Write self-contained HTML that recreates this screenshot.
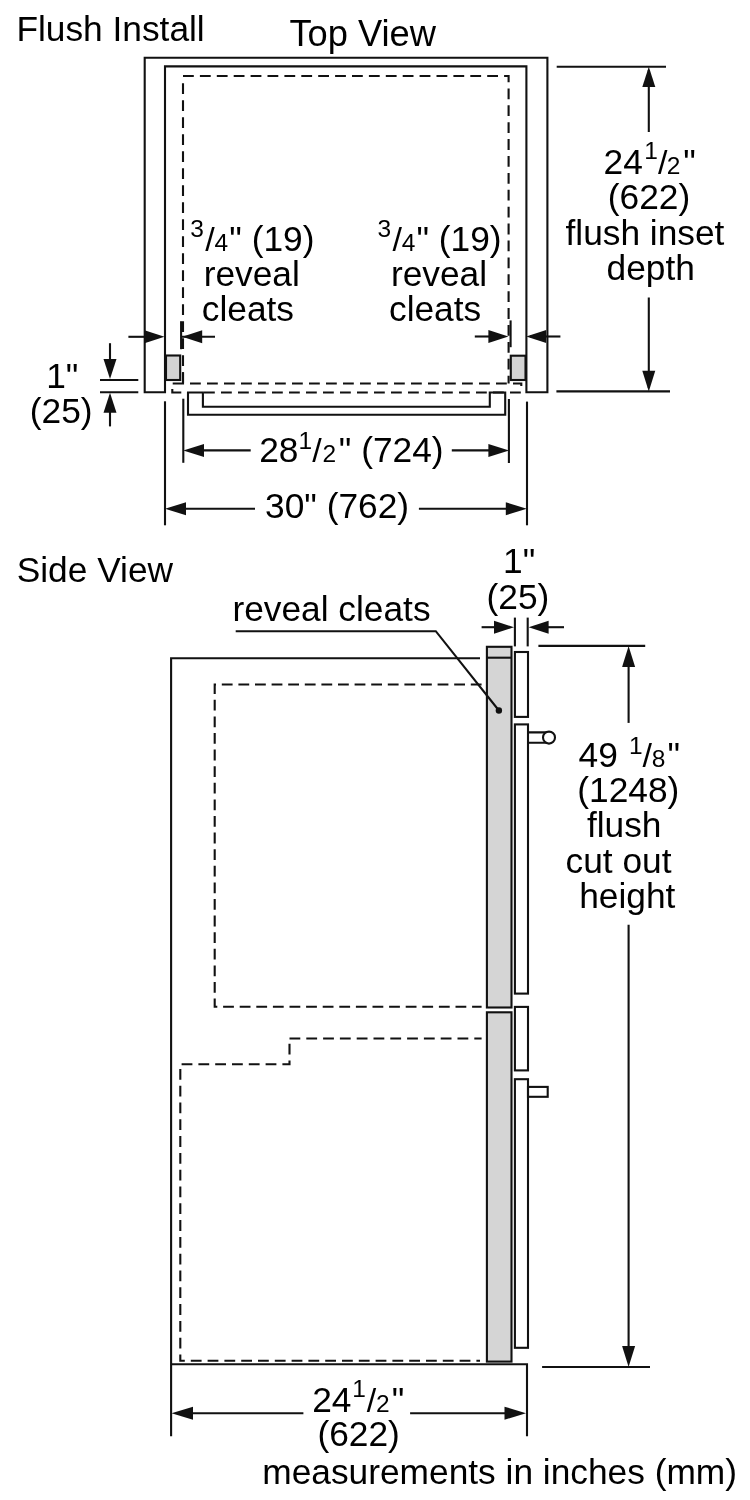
<!DOCTYPE html>
<html><head><meta charset="utf-8">
<style>
html,body{margin:0;padding:0;background:#fff;width:750px;height:1500px;overflow:hidden}
svg{display:block;will-change:transform}
text{font-family:"Liberation Sans",sans-serif;fill:#000;font-size:35.3px}
</style></head><body>
<svg width="750" height="1500" viewBox="0 0 750 1500">
<g fill="none" stroke="#111" stroke-width="2.1">
<!-- ===== TOP VIEW ===== -->
<path d="M165,392.3 H144.7 V57.7 H547.4 V392.3 H526.4 V66.4 H165 Z"/>
<!-- dashed interior -->
<g stroke-dasharray="10.8 6.1">
<path d="M183,76 H508.6 V383.5"/>
<path d="M190,383.5 H521.3 V387" stroke-dasharray="10.8 6.2"/>
<path d="M204,392.5 H521.3" stroke-dasharray="10.8 6.2"/>
<path d="M183,83.3 V383.5" stroke-dasharray="10.8 6.2"/>
</g>
<path d="M183,372.3 V383.5 H172.7"/>
<path d="M172.3,389 V392.5 H181.3"/>
<!-- handle -->
<path d="M188,392.5 V414.8 H505.2 V392.5 H489.8 V406.8 H202.9 V392.5 Z"/>
<!-- cleats -->
<rect x="166" y="355.5" width="14.2" height="24.5" fill="#d3d3d3"/>
<rect x="510.8" y="355.7" width="14.7" height="24.3" fill="#d3d3d3"/>
<!-- reveal extension short solid -->
<path d="M181.1,321.2 V349.2"/>
<path d="M510.6,320.4 V347.2"/>
<!-- reveal dims -->
<path d="M128.4,336.8 H150"/>
<path d="M182,336.8 H215"/>
<path d="M474.8,336.5 H500"/>
<path d="M530,336.5 H560.4"/>
<!-- right depth dim -->
<path d="M556.7,66.7 H666"/>
<path d="M556.4,391.4 H670"/>
<path d="M648.8,70 V132"/>
<path d="M648.8,297.5 V388"/>
<!-- 1" dim left -->
<path d="M100,380 H138.3"/>
<path d="M100,392.2 H138.3"/>
<path d="M110,343.2 V365"/>
<path d="M110,405 V426.4"/>
<!-- bottom extension lines -->
<path d="M165,401.3 V525.3"/>
<path d="M183.3,398.7 V462.8"/>
<path d="M508.9,399 V463"/>
<path d="M527,401.6 V525.3"/>
<path d="M190,450.4 H250.7"/>
<path d="M451.8,450.4 H500"/>
<path d="M175,508.7 H255"/>
<path d="M418.9,508.7 H515"/>

<!-- ===== SIDE VIEW ===== -->
<path d="M480,658.2 H171.1 V1436.3"/>
<path d="M171.1,1364.2 H527 V1436.3"/>
<g stroke-dasharray="10.8 6">
<path d="M481.6,684.5 H214.7 V1006.8 H481.6" stroke-dasharray="10.8 5.8"/>
<path d="M289.5,1038.5 H481.6"/>
<path d="M289.5,1043.7 V1064.2 H180.3 V1360.8 H480"/>
</g>
<!-- gray panels -->
<rect x="486.9" y="646.8" width="24.6" height="360.7" fill="#d5d5d5"/>
<path d="M486.9,657.7 H511.5"/>
<rect x="486.9" y="1012.3" width="24.6" height="349.3" fill="#d5d5d5"/>
<!-- door panels -->
<rect x="514.9" y="652" width="13.1" height="64.9"/>
<rect x="514.9" y="724.4" width="13.1" height="269.2"/>
<rect x="514.9" y="1006.9" width="13.1" height="63.5"/>
<rect x="514.9" y="1079.2" width="13.1" height="268.6"/>
<!-- handles -->
<path d="M528,732.4 H549 M528,742.8 H549"/>
<circle cx="549" cy="737.6" r="6" fill="#fff"/>
<rect x="528" y="1086.9" width="19.7" height="9.9"/>
<!-- leader -->
<path d="M235.7,631.2 H435.8 L498.9,710.5"/>
<!-- 1" dim side -->
<path d="M514.9,617.6 V646.4"/>
<path d="M527.7,617.6 V646.4"/>
<path d="M481.6,627.2 H500"/>
<path d="M540,627.2 H564"/>
<!-- 49 1/8 dim -->
<path d="M538.4,645.9 H645.2"/>
<path d="M542.1,1367 H650"/>
<path d="M628.6,660 V722.9"/>
<path d="M628.6,924.7 V1350"/>
<!-- bottom 24 1/2 -->
<path d="M185,1413.2 H303.4"/>
<path d="M410.1,1413.2 H510"/>
</g>
<!-- arrowheads & dot -->
<g fill="#111" stroke="none">
<circle cx="498.9" cy="710.5" r="3.2"/>
<!-- top view reveal -->
<path d="M164.5,336.8 L144.5,330.3 V343.3 Z"/>
<path d="M182.2,336.8 L202.2,330.3 V343.3 Z"/>
<path d="M508.4,336.5 L488.4,330 V343 Z"/>
<path d="M526.2,336.5 L546.2,330 V343 Z"/>
<!-- depth -->
<path d="M648.8,66.7 L642.3,87 H655.3 Z"/>
<path d="M648.8,391.4 L642.3,370.8 H655.3 Z"/>
<!-- 1" left -->
<path d="M110,379 L103.5,359 H116.5 Z"/>
<path d="M110,392.8 L103.5,412.8 H116.5 Z"/>
<!-- 28 1/2 -->
<path d="M183.3,450.4 L204,443.9 V456.9 Z"/>
<path d="M509.1,450.4 L488.4,443.9 V456.9 Z"/>
<!-- 30 -->
<path d="M165,508.7 L186,502.2 V515.2 Z"/>
<path d="M526.8,508.7 L505.8,502.2 V515.2 Z"/>
<!-- side 1" -->
<path d="M514,627.2 L494,620.7 V633.7 Z"/>
<path d="M528.6,627.2 L548.6,620.7 V633.7 Z"/>
<!-- 49 1/8 -->
<path d="M628.6,646 L622.1,667 H635.1 Z"/>
<path d="M628.6,1366.9 L622.1,1346 H635.1 Z"/>
<!-- bottom 24 1/2 -->
<path d="M171.5,1413.2 L193,1406.7 V1419.7 Z"/>
<path d="M526,1413.2 L504.5,1406.7 V1419.7 Z"/>
</g>

<!-- ===== TEXT ===== -->
<text x="16.4" y="41.3">Flush Install</text>
<text x="289.4" y="45.8" style="font-size:36.3px">Top View</text>
<text x="190.3" y="237.4" style="font-size:24.5px">3</text>
<text x="205.2" y="250.7" style="font-size:34px">/</text>
<text x="214.6" y="250.7" style="font-size:24.5px">4</text>
<text x="229.3" y="250.7">&quot; (19)</text>
<text x="203.7" y="286.3">reveal</text>
<text x="201.8" y="321">cleats</text>
<text x="377.5" y="237.4" style="font-size:24.5px">3</text>
<text x="392.4" y="250.7" style="font-size:34px">/</text>
<text x="401.8" y="250.7" style="font-size:24.5px">4</text>
<text x="416.5" y="250.7">&quot; (19)</text>
<text x="390.9" y="286.3">reveal</text>
<text x="389.0" y="321">cleats</text>
<text x="603.5" y="174.4">24</text>
<text x="644.2" y="159.3" style="font-size:24.5px">1</text>
<text x="658.0" y="174.4" style="font-size:34px">/</text>
<text x="666.8" y="174.4" style="font-size:24.5px">2</text>
<text x="683.2" y="174.4">&quot;</text>
<text x="607.8" y="209.0">(622)</text>
<text x="565.5" y="245.0">flush inset</text>
<text x="606.5" y="280.0">depth</text>
<text x="46.2" y="387.5">1&quot;</text>
<text x="29.8" y="423.2">(25)</text>
<text x="259.2" y="462.3">28</text>
<text x="298.5" y="448.7" style="font-size:24.5px">1</text>
<text x="312.3" y="462.3" style="font-size:34px">/</text>
<text x="322.5" y="462.3" style="font-size:24.5px">2</text>
<text x="338.8" y="462.3">&quot; (724)</text>
<text x="265.1" y="517.5">30&quot; (762)</text>
<text x="16.7" y="581.7">Side View</text>
<text x="232.4" y="621.0">reveal cleats</text>
<text x="503.0" y="572.8">1&quot;</text>
<text x="486.6" y="608.8">(25)</text>
<text x="578.6" y="767.4">49</text>
<text x="628.9" y="753.5" style="font-size:24.5px">1</text>
<text x="642.5" y="767.4" style="font-size:34px">/</text>
<text x="651.7" y="767.4" style="font-size:24.5px">8</text>
<text x="667.4" y="767.4">&quot;</text>
<text x="577.3" y="802.3">(1248)</text>
<text x="586.9" y="837.4">flush</text>
<text x="565.5" y="872.5">cut out</text>
<text x="579.2" y="907.7">height</text>
<text x="312.2" y="1411.7">24</text>
<text x="352.2" y="1397.0" style="font-size:24.5px">1</text>
<text x="366.7" y="1411.7" style="font-size:34px">/</text>
<text x="376.1" y="1411.7" style="font-size:24.5px">2</text>
<text x="391.8" y="1411.7">&quot;</text>
<text x="317.4" y="1446.2">(622)</text>
<text x="262.3" y="1484.0">measurements in inches (mm)</text>

</svg>
</body></html>
